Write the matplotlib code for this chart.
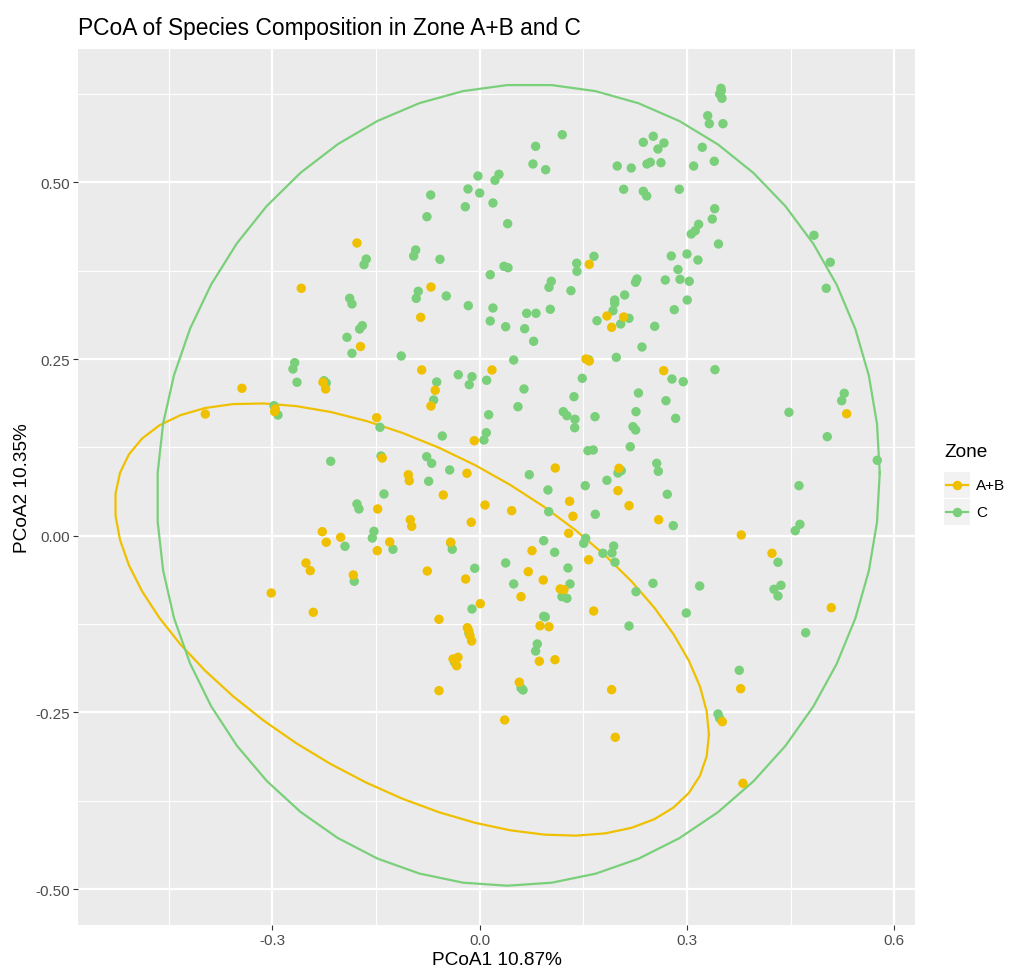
import numpy as np
import matplotlib
matplotlib.use("Agg")
import matplotlib.pyplot as plt
from matplotlib.patches import Rectangle

plt.rcParams['font.family'] = ['Liberation Sans', 'DejaVu Sans']

# ---------------- data ----------------
ab_x = [-0.1776, 0.1586, -0.2582, -0.1725, -0.2268, -0.2229, -0.3440, -0.3971, -0.2958, -0.2967,
        -0.0705, -0.0854, -0.0839, -0.0643, -0.0705, 0.0178, -0.0078, -0.1491, -0.1410, -0.0184,
        -0.1033, -0.1019, 0.1094, 0.2016, 0.2001, 0.1842, 0.2084, 0.1910, 0.1538, 0.1586,
        0.2663, 0.5311, -0.2278, -0.2012, -0.2220, -0.2514, -0.2452, -0.1829, -0.3016, -0.2408,
        -0.0527, -0.1476, -0.1004, -0.0984, -0.0122, 0.0077, 0.0463, 0.1302, 0.1350, 0.2161,
        -0.1302, -0.1482, -0.0420, -0.0758, -0.0203, 0.1288, 0.0757, 0.1577, 0.0703, 0.0920,
        0.1166, 0.1220, 0.0598, 0.0009, 0.1650, -0.0589, 0.0873, 0.1003, -0.0179, -0.0159,
        -0.0140, -0.0116, 0.0863, 0.1090, -0.0386, -0.0314, -0.0333, 0.0573, -0.0589, 0.1910,
        0.2590, 0.3786, 0.4230, 0.5088, 0.3777, 0.3511, 0.3810, 0.0362, 0.1962]
ab_y = [0.4142, 0.3840, 0.3501, 0.2677, 0.2171, 0.2076, 0.2086, 0.1722, 0.1793, 0.1755,
        0.3519, 0.3090, 0.2345, 0.2057, 0.1835, 0.2345, 0.1344, 0.1670, 0.1099, 0.0883,
        0.0863, 0.0778, 0.0958, 0.0954, 0.0637, 0.3109, 0.3095, 0.2949, 0.2500, 0.2472,
        0.2335, 0.1726, 0.0057, -0.0023, -0.0093, -0.0386, -0.0495, -0.0556, -0.0811, -0.1084,
        0.0576, 0.0378, 0.0226, 0.0133, 0.0190, 0.0434, 0.0354, 0.0487, 0.0275, 0.0425,
        -0.0089, -0.0212, -0.0093, -0.0500, -0.0613, 0.0034, -0.0212, -0.0340, -0.0509, -0.0627,
        -0.0754, -0.0764, -0.0863, -0.0962, -0.1066, -0.1183, -0.1274, -0.1288, -0.1302, -0.1344,
        -0.1415, -0.1490, -0.1777, -0.1755, -0.1745, -0.1721, -0.1840, -0.2074, -0.2193, -0.2179,
        0.0226, 0.0010, -0.0249, -0.1019, -0.2165, -0.2632, -0.3504, -0.2608, -0.2853]

c_x = [0.1195, 0.0810, 0.0771, 0.0955, 0.1991, 0.2194, 0.2084, -0.0025, 0.0279, 0.0221,
       -0.0169, 0.0000, 0.0192, -0.0709, -0.0208, -0.0763, 0.0405, -0.0926, -0.0955, -0.0575,
       -0.1641, -0.1674, 0.0352, 0.0410, 0.1404, 0.1654, 0.3492, 0.3473, 0.3507, 0.3496,
       0.3300, 0.3323, 0.3521, 0.3221, 0.3395, 0.3097, 0.2368, 0.2512, 0.2667, 0.2580,
       0.2421, 0.2469, 0.2624, 0.2368, 0.2417, 0.2889, 0.3401, 0.3366, 0.3169, 0.3062,
       0.3120, 0.3456, 0.2773, 0.3000, 0.3159, 0.2870, 0.4838, 0.5074, -0.1881, -0.1848,
       -0.1737, -0.1699, -0.1920, -0.1848, -0.2677, -0.2702, -0.2644, -0.2253, -0.2220, -0.2977,
       -0.2919, -0.2156, 0.0153, 0.1408, 0.1036, 0.1003, 0.1321, -0.0889, -0.0918, -0.0483,
       -0.0165, 0.0192, 0.0153, 0.0680, 0.0815, 0.1022, 0.0376, 0.0651, 0.0781, -0.1135,
       0.0492, -0.0622, -0.0666, -0.0310, -0.0111, -0.0151, 0.0101, 0.0641, 0.0554, 0.0130,
       0.0096, 0.0062, -0.0541, -0.1443, -0.1428, -0.0767, -0.0695, -0.0434, -0.0738, 0.0718,
       0.0988, 0.1528, 0.1842, 0.2001, 0.2049, 0.2179, 0.2219, 0.2257, 0.2262, 0.2298,
       0.1669, 0.1379, 0.1375, 0.1210, 0.1263, 0.1365, 0.1485, 0.1567, 0.1644, 0.1577,
       0.1977, 0.1698, 0.1954, 0.1954, 0.1929, 0.2098, 0.2041, 0.2161, 0.2255, 0.2276,
       0.2686, 0.2899, 0.3033, 0.3004, 0.2816, 0.2533, 0.2349, 0.2783, 0.2946, 0.3405,
       0.2696, 0.2836, 0.2562, 0.2585, 0.4621, 0.5016, 0.5276, 0.5239, 0.4476, 0.5030,
       0.5754, -0.1776, -0.1747, -0.1949, -0.1815, -0.1385, 0.0999, 0.1673, -0.1530, -0.1554,
       -0.1255, -0.0420, -0.0397, -0.0072, 0.0926, 0.1534, 0.1505, 0.1085, 0.1784, 0.1915,
       0.1939, 0.1958, 0.0376, 0.1278, 0.0492, 0.1307, 0.1191, 0.1263, 0.2262, -0.0111,
       0.0926, 0.0949, 0.2161, -0.0155, 0.0834, 0.0810, -0.0362, 0.0598, 0.0627, 0.2715,
       0.2802, 0.4635, 0.4567, 0.4317, 0.4360, 0.4259, 0.4317, 0.2508, 0.3184, 0.2990,
       0.4718, 0.3757, 0.3449, 0.3473]
c_y = [0.5674, 0.5510, 0.5260, 0.5179, 0.5231, 0.5203, 0.4902, 0.5090, 0.5114, 0.5029,
       0.4906, 0.4849, 0.4708, 0.4821, 0.4655, 0.4514, 0.4415, 0.4043, 0.3958, 0.3911,
       0.3915, 0.3835, 0.3812, 0.3792, 0.3855, 0.3954, 0.6331, 0.6250, 0.6189, 0.6297,
       0.5943, 0.5830, 0.5830, 0.5496, 0.5298, 0.5231, 0.5567, 0.5652, 0.5557, 0.5472,
       0.5260, 0.5284, 0.5278, 0.4873, 0.4807, 0.4902, 0.4627, 0.4481, 0.4406, 0.4269,
       0.4316, 0.4128, 0.3958, 0.3986, 0.3901, 0.3767, 0.4251, 0.3869, 0.3359, 0.3279,
       0.2925, 0.2972, 0.2807, 0.2581, 0.2448, 0.2359, 0.2171, 0.2193, 0.2161, 0.1840,
       0.1708, 0.1053, 0.3693, 0.3741, 0.3600, 0.3515, 0.3467, 0.3458, 0.3359, 0.3392,
       0.3255, 0.3222, 0.3038, 0.3147, 0.3147, 0.3204, 0.2957, 0.2929, 0.2751, 0.2543,
       0.2486, 0.2175, 0.1920, 0.2278, 0.2250, 0.2137, 0.2199, 0.2076, 0.1825, 0.1712,
       0.1457, 0.1354, 0.1411, 0.1534, 0.1128, 0.1118, 0.1024, 0.0930, 0.0770, 0.0863,
       0.0647, 0.0708, 0.0784, 0.0887, 0.0920, 0.1259, 0.1542, 0.1496, 0.1755, 0.2019,
       0.1684, 0.1647, 0.1528, 0.1755, 0.1698, 0.1967, 0.2227, 0.1203, 0.1213, 0.2490,
       0.2524, 0.3042, 0.3335, 0.3289, 0.3184, 0.3406, 0.2996, 0.3076, 0.3586, 0.3632,
       0.3618, 0.3628, 0.3600, 0.3335, 0.3198, 0.2963, 0.2670, 0.2217, 0.2179, 0.2349,
       0.1910, 0.1661, 0.1024, 0.0911, 0.0708, 0.3501, 0.2015, 0.1910, 0.1746, 0.1401,
       0.1067, 0.0449, 0.0378, -0.0150, -0.0645, 0.0590, 0.0340, 0.0303, 0.0062, -0.0033,
       -0.0192, -0.0103, -0.0192, -0.0461, -0.0071, -0.0037, -0.0108, -0.0235, -0.0249, -0.0245,
       -0.0146, -0.0376, -0.0386, -0.0457, -0.0683, -0.0683, -0.0863, -0.0886, -0.0792, -0.1037,
       -0.1141, -0.1150, -0.1278, -0.1381, -0.1532, -0.1632, -0.1791, -0.2155, -0.2183, 0.0586,
       0.0142, 0.0161, 0.0071, -0.0376, -0.0702, -0.0758, -0.0853, -0.0674, -0.0712, -0.1094,
       -0.1373, -0.1905, -0.2523, -0.2584]

zones = ["A+B", "C"]
zone_colors = ["#EFC000", "#7AD07A"]

# 95% ellipse geometry (centre and shape matrix) per zone
ell_center_ab = [-0.098, -0.1186]
ell_shape_ab = [[0.1847, -0.0700], [-0.0700, 0.0936]]
ell_center_c = [0.056, 0.0717]
ell_shape_c = [[0.2735, 0.0090], [0.0090, 0.3215]]

x_ticks = [-0.3, 0.0, 0.3, 0.6]
x_tick_labels = ["-0.3", "0.0", "0.3", "0.6"]
x_minor = [-0.45, -0.15, 0.15, 0.45]
y_ticks = [-0.50, -0.25, 0.00, 0.25, 0.50]
y_tick_labels = ["-0.50", "-0.25", "0.00", "0.25", "0.50"]
y_minor = [-0.375, -0.125, 0.125, 0.375, 0.625]

title = "PCoA of Species Composition in Zone A+B and C"
xlabel = "PCoA1 10.87%"
ylabel = "PCoA2 10.35%"

# ---------------- figure ----------------
W, H = 1016, 970
fig = plt.figure(figsize=(W / 100, H / 100), dpi=100)
fig.patch.set_facecolor("white")
L, R, T, B = 78, 915, 50, 926
ax = fig.add_axes([L / W, 1 - B / H, (R - L) / W, (B - T) / H])
ax.set_facecolor("#EBEBEB")
for s in ax.spines.values():
    s.set_visible(False)

ax.set_xlim(-0.5813, 0.630)
ax.set_ylim(-0.5509, 0.6887)

for v in x_minor:
    ax.axvline(v, color="white", lw=0.8, zorder=0.5)
for v in y_minor:
    ax.axhline(v, color="white", lw=0.8, zorder=0.5)
for v in x_ticks:
    ax.axvline(v, color="white", lw=1.6, zorder=0.6)
for v in y_ticks:
    ax.axhline(v, color="white", lw=1.6, zorder=0.6)

ax.set_xticks(x_ticks)
ax.set_xticklabels(x_tick_labels)
ax.set_yticks(y_ticks)
ax.set_yticklabels(y_tick_labels)
ax.tick_params(axis="both", length=3.4, width=0.8, color="#333333",
               labelcolor="#4D4D4D", labelsize=11, pad=2.5)

# points
ax.scatter(c_x, c_y, s=46, color=zone_colors[1], edgecolors="none", zorder=3)
ax.scatter(ab_x, ab_y, s=46, color=zone_colors[0], edgecolors="none", zorder=3)

# ellipses (ggplot-style, 51 segments)
theta = np.linspace(0, 2 * np.pi, 52)
unit = np.column_stack([np.cos(theta), np.sin(theta)])
for cen, shp, col in [(ell_center_ab, ell_shape_ab, zone_colors[0]),
                      (ell_center_c, ell_shape_c, zone_colors[1])]:
    Rm = np.linalg.cholesky(np.array(shp)).T
    pts = unit @ Rm + np.array(cen)
    ax.plot(pts[:, 0], pts[:, 1], color=col, lw=1.6, zorder=2)

ax.set_xlabel(xlabel, fontsize=13.7, color="black", labelpad=3)
ax.set_ylabel(ylabel, fontsize=13.7, color="black", labelpad=3)
fig.text(L / W, 1 - 28 / H, title, fontsize=16.4, color="black",
         ha="left", va="center")

# ---------------- legend ----------------
lax = fig.add_axes([0, 0, 1, 1], zorder=5)
lax.set_xlim(0, W)
lax.set_ylim(H, 0)
lax.axis("off")
lax.text(944, 453, "Zone", fontsize=13.7, ha="left", va="center")
key_y = [486, 513]
for i, (lab, col) in enumerate(zip(zones, zone_colors)):
    yc = key_y[i]
    lax.add_patch(Rectangle((944, yc - 13), 26, 26, facecolor="#F2F2F2",
                            edgecolor="none"))
    lax.plot([946, 968], [yc, yc], color=col, lw=1.6)
    lax.plot([957], [yc], marker="o", ms=6.8, color=col, mec="none")
    lax.text(976, yc, lab, fontsize=11, ha="left", va="center", color="black")

fig.savefig("out.png", dpi=100)
